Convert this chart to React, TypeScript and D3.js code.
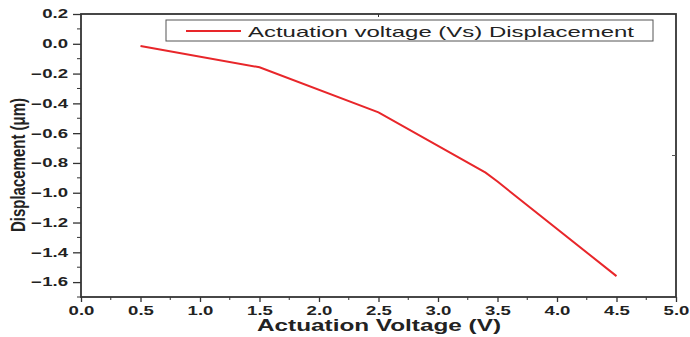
import { useEffect, useRef } from 'react';
import * as d3 from 'd3';

const width = 690;
const height = 337;
const [mt, mr, mb, ml] = [14, 14, 40, 81];

const voltage = [0.5, 1.5, 2.5, 3.4, 3.5, 4.5];
const displacement = [-0.015, -0.158, -0.46, -0.865, -0.925, -1.56];
const xTicks = [0, 0.5, 1, 1.5, 2, 2.5, 3, 3.5, 4, 4.5, 5];
const yTicks = [0.2, 0, -0.2, -0.4, -0.6, -0.8, -1.0, -1.2, -1.4, -1.6];
const seriesName = 'Actuation voltage (Vs) Displacement';

// the original picture is stretched sideways, so the texts are too
const stretch = 1.55;

export default function App() {
    const ref = useRef<SVGSVGElement | null>(null);

    useEffect(() => {
        const svg = d3.select(ref.current);
        svg.selectAll('*').remove();

        const x = d3.scaleLinear().domain([0, 5]).range([ml, width - mr]);
        const y = d3.scaleLinear().domain([-1.7, 0.2]).range([height - mb, mt]);

        const font = 'Liberation Sans, Arial, sans-serif';

        // x axis
        const xAxis = svg.append('g').attr('transform', `translate(0,${height - mb})`);
        xAxis.call(
            d3.axisBottom(x).tickValues(xTicks).tickSize(5).tickPadding(4).tickFormat((d) => d3.format('.1f')(d as number))
        );
        xAxis.selectAll('.minor')
            .data(d3.range(0.25, 5, 0.5))
            .join('line')
            .attr('x1', (d) => x(d))
            .attr('x2', (d) => x(d))
            .attr('y1', 0)
            .attr('y2', 3)
            .attr('stroke', '#333');

        // y axis
        const yAxis = svg.append('g').attr('transform', `translate(${ml},0)`);
        yAxis.call(
            d3.axisLeft(y).tickValues(yTicks).tickSize(8).tickPadding(5).tickFormat((d) => d3.format('.1f')(d as number))
        );
        yAxis.selectAll('.minor')
            .data(d3.range(-1.7, 0.2, 0.2).map((v) => Math.round(v * 10) / 10))
            .join('line')
            .attr('x1', 0)
            .attr('x2', -4)
            .attr('y1', (d) => y(d))
            .attr('y2', (d) => y(d))
            .attr('stroke', '#333');

        [xAxis, yAxis].forEach((g) => {
            g.select('.domain').remove();
            g.selectAll('.tick line').attr('stroke', '#333').attr('stroke-width', 1.3);
            g.selectAll('.tick text')
                .attr('font-family', font)
                .attr('font-weight', 'bold')
                .attr('font-size', 12)
                .attr('fill', '#222');
        });
        xAxis.selectAll('.tick text').attr('transform', `scale(${stretch},1)`);
        yAxis.selectAll('.tick text').attr('x', -13 / stretch).attr('transform', `scale(${stretch},1)`);

        // frame
        svg.append('rect')
            .attr('x', ml)
            .attr('y', mt)
            .attr('width', width - mr - ml)
            .attr('height', height - mb - mt)
            .attr('fill', 'none')
            .attr('stroke', '#333')
            .attr('stroke-width', 1.8);

        // stray ticks on top and right axes
        svg.append('line')
            .attr('x1', x(2.5))
            .attr('x2', x(2.5))
            .attr('y1', mt)
            .attr('y2', mt + 3)
            .attr('stroke', '#333');
        svg.append('line')
            .attr('x1', width - mr)
            .attr('x2', width - mr - 4)
            .attr('y1', y(-0.75))
            .attr('y2', y(-0.75))
            .attr('stroke', '#555');

        // line
        const pts = voltage.map((v, i) => [v, displacement[i]] as [number, number]);
        const line = d3
            .line<[number, number]>()
            .x((d) => x(d[0]))
            .y((d) => y(d[1]));
        svg.append('path')
            .datum(pts)
            .attr('d', line)
            .attr('fill', 'none')
            .attr('stroke', '#e8262a')
            .attr('stroke-width', 2);

        // legend
        const legend = svg.append('g').attr('transform', 'translate(166,20)');
        legend.append('rect')
            .attr('width', 487)
            .attr('height', 21)
            .attr('fill', '#fff')
            .attr('stroke', '#555')
            .attr('stroke-width', 1);
        legend.append('line')
            .attr('x1', 20)
            .attr('x2', 75)
            .attr('y1', 11)
            .attr('y2', 11)
            .attr('stroke', '#e8262a')
            .attr('stroke-width', 2);
        legend.append('text')
            .attr('x', 82)
            .attr('y', 16.5)
            .attr('font-family', font)
            .attr('font-size', 15)
            .attr('fill', '#222')
            .attr('textLength', 386)
            .attr('lengthAdjust', 'spacingAndGlyphs')
            .text(seriesName);

        // axis titles
        svg.append('text')
            .attr('x', 379)
            .attr('y', 331)
            .attr('text-anchor', 'middle')
            .attr('font-family', font)
            .attr('font-weight', 'bold')
            .attr('font-size', 16)
            .attr('fill', '#222')
            .attr('textLength', 244)
            .attr('lengthAdjust', 'spacingAndGlyphs')
            .text('Actuation Voltage (V)');
        svg.append('text')
            .attr('transform', `translate(25,165) scale(1.4,1) rotate(-90)`)
            .attr('text-anchor', 'middle')
            .attr('font-family', font)
            .attr('font-weight', 'bold')
            .attr('font-size', 15)
            .attr('fill', '#222')
            .text('Displacement (μm)');
    }, []);

    return (
        <svg
            ref={ref}
            width={width}
            height={height}
            style={{ position: 'absolute', left: 0, top: 0, background: '#fff' }}
        />
    );
}
